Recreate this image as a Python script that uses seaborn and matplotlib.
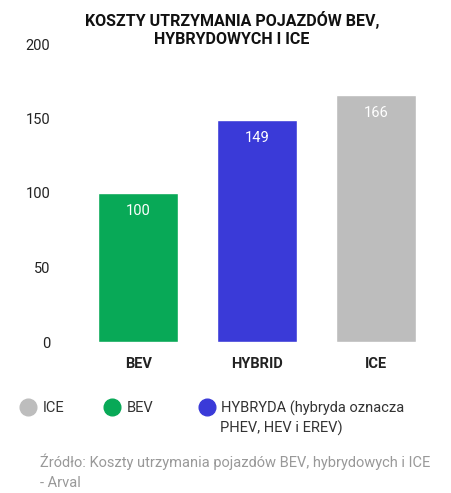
import matplotlib
matplotlib.use("Agg")
import matplotlib.pyplot as plt
from matplotlib.lines import Line2D
import seaborn as sns
import pandas as pd

categories = ["BEV", "HYBRID", "ICE"]
values = [100, 149, 166]
colors = ["#08a957", "#3a3ad8", "#bdbdbd"]
y_ticks = [0, 50, 100, 150, 200]
title = "KOSZTY UTRZYMANIA POJAZDÓW BEV,\nHYBRYDOWYCH I ICE"
legend_labels = ["ICE", "BEV", "HYBRYDA (hybryda oznacza"]
legend_extra = "PHEV, HEV i EREV)"
legend_colors = ["#bdbdbd", "#08a957", "#3a3ad8"]
source = "Źródło: Koszty utrzymania pojazdów BEV, hybrydowych i ICE\n- Arval"

sns.set_theme(style="white")
FAM = ["Roboto", "DejaVu Sans"]
plt.rcParams["font.family"] = FAM

df = pd.DataFrame({"cat": categories, "val": values})

fig = plt.figure(figsize=(4.52, 4.93), dpi=100)
ax = fig.add_axes([60 / 452, 151 / 493, 380 / 452, 298 / 493])
sns.barplot(data=df, x="cat", y="val", hue="cat", palette=colors,
            legend=False, width=0.675, saturation=1, ax=ax)
ax.set_ylim(0, 200)
ax.set_xlim(-0.66, 2.54)
ax.set_yticks(y_ticks)
ax.set_yticklabels([str(t) for t in y_ticks], fontsize=10.5, color="#222222")
ax.tick_params(axis="y", length=0, pad=7)
ax.tick_params(axis="x", length=0, pad=11, labelsize=10.5)
for lab in ax.get_xticklabels():
    lab.set_fontweight("bold")
    lab.set_color("#222222")
ax.set_xlabel("")
ax.set_ylabel("")
for s in ax.spines.values():
    s.set_visible(False)
ax.grid(False)

for p in ax.patches:
    h = p.get_height()
    if h and h > 0:
        ax.annotate(f"{h:.0f}", (p.get_x() + p.get_width() / 2, h),
                    xytext=(0, -13), textcoords="offset points",
                    ha="center", va="center", color="white", fontsize=10.5)

fig.text(232 / 452, 1 - 29 / 493, title, ha="center", va="center",
         fontsize=11.5, fontweight="bold", color="#111111", linespacing=1.3)

lefts = [19, 103, 198]
for lbl, col, lx in zip(legend_labels, legend_colors, lefts):
    h = Line2D([], [], marker="o", linestyle="", markersize=12,
               markerfacecolor=col, markeredgecolor=col)
    fig.legend([h], [lbl], loc="center left",
               bbox_to_anchor=(lx / 452, 1 - 408 / 493),
               frameon=False, fontsize=10.5, handletextpad=0.4,
               handlelength=1.2, borderpad=0, borderaxespad=0,
               labelcolor="#333333")
fig.text(220 / 452, 1 - 428 / 493, legend_extra, ha="left", va="center",
         fontsize=10.5, color="#333333")

fig.text(40 / 452, 1 - 454 / 493, source, ha="left", va="top",
         fontsize=10.5, color="#999999", linespacing=1.5)

fig.savefig("out.png", dpi=100)
